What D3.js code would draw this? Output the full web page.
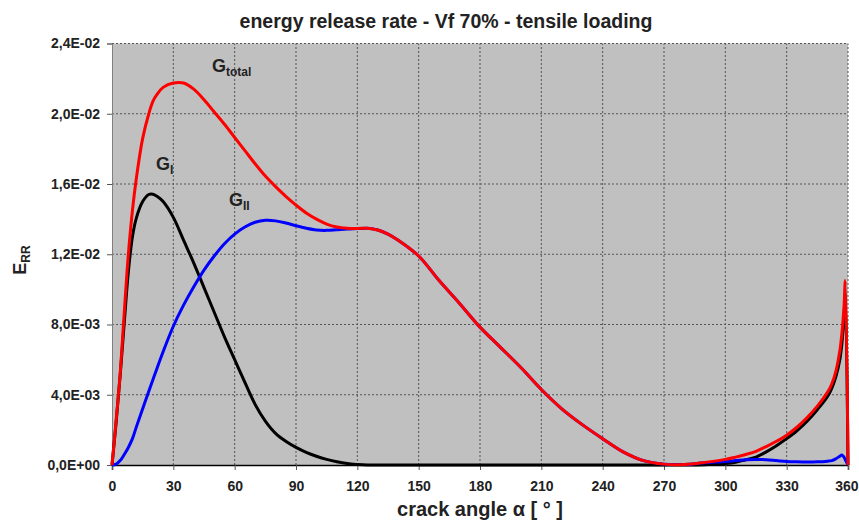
<!DOCTYPE html>
<html>
<head>
<meta charset="utf-8">
<script src="https://cdn.jsdelivr.net/npm/d3@7"></script>
<style>
  body { margin: 0; background: #fff; }
  text { font-family: "Liberation Sans", Arial, sans-serif; font-weight: bold; fill: #222; }
  .grid line { stroke: #555; stroke-dasharray: 2,2; stroke-width: 1; }
</style>
</head>
<body>
<div id="chart"></div>
<script>
// crack angle in degrees, values in units of 1E-03
var angles = [0, 2, 4, 6, 8, 10, 12, 15, 18, 20, 22, 25, 30, 35, 40, 45, 50, 55, 60, 65, 70, 75,
              80, 85, 90, 95, 100, 105, 110, 115, 120, 125, 130, 135, 140, 150, 160, 170, 180, 190,
              200, 210, 220, 230, 240, 250, 260, 270, 280, 290, 300, 305, 310, 315, 320, 325, 330,
              335, 340, 345, 350, 352, 354, 356, 357, 358, 358.7, 360];

var gTotal = [0, 2.5, 5.2, 8.7, 12.0, 14.5, 16.4, 18.6, 20.0, 20.7, 21.1, 21.5, 21.75, 21.75, 21.4, 20.8, 20.1, 19.4, 18.65, 17.9, 17.15, 16.45,
              15.85, 15.3, 14.8, 14.35, 14.0, 13.72, 13.55, 13.48, 13.47, 13.48, 13.38, 13.15, 12.8, 11.9, 10.5, 9.2, 7.85, 6.7,
              5.55, 4.3, 3.2, 2.3, 1.5, 0.75, 0.25, 0.05, 0.03, 0.15, 0.32, 0.45, 0.6, 0.78, 1.05, 1.35, 1.7,
              2.15, 2.7, 3.35, 4.15, 4.6, 5.3, 6.5, 7.5, 8.9, 10.5, 0];

var gI = [0, 2.4, 5.1, 8.1, 11.0, 13.0, 14.1, 15.0, 15.4, 15.42, 15.3, 15.0, 14.1, 12.8, 11.5, 10.1, 8.7, 7.3, 6.0, 4.7, 3.45, 2.5,
          1.8, 1.35, 1.0, 0.72, 0.5, 0.32, 0.18, 0.08, 0.03, 0, 0, 0, 0, 0, 0, 0, 0, 0,
          0, 0, 0, 0, 0, 0, 0, 0, 0, 0.02, 0.08, 0.15, 0.3, 0.45, 0.75, 1.1, 1.5,
          1.95, 2.5, 3.15, 3.9, 4.35, 5.0, 6.0, 6.9, 8.3, 9.8, 0];

var gII = [0, 0.05, 0.25, 0.6, 1.0, 1.5, 2.2, 3.2, 4.2, 4.85, 5.5, 6.45, 7.9, 9.1, 10.15, 11.1, 11.9, 12.6, 13.15, 13.55, 13.82, 13.93,
           13.9, 13.78, 13.62, 13.48, 13.38, 13.36, 13.4, 13.44, 13.46, 13.48, 13.38, 13.15, 12.8, 11.9, 10.5, 9.2, 7.85, 6.7,
           5.55, 4.3, 3.2, 2.3, 1.5, 0.75, 0.25, 0.05, 0.03, 0.13, 0.2, 0.25, 0.3, 0.32, 0.3, 0.25, 0.2,
           0.18, 0.17, 0.18, 0.22, 0.25, 0.35, 0.5, 0.57, 0.45, 0.3, 0];

var xTicks = [0, 30, 60, 90, 120, 150, 180, 210, 240, 270, 300, 330, 360];
var yTicks = [0, 4, 8, 12, 16, 20, 24];

var width = 859, height = 521,
    margin = {top: 43.5, right: 11, bottom: 56, left: 112};

var svg = d3.select('#chart')
    .append('svg')
    .attr('width', width)
    .attr('height', height);

var x = d3.scaleLinear().domain([0, 360]).range([margin.left, width - margin.right]);
var y = d3.scaleLinear().domain([0, 24]).range([height - margin.bottom, margin.top]);

// 4.0E-03 style labels
function sciLabel(v) {
    var s = (v * 1e-3).toExponential(1).split('e');
    var exp = parseInt(s[1], 10);
    if (v === 0) exp = 0;
    var e = (exp < 0 ? '-' : '+') + (Math.abs(exp) < 10 ? '0' : '') + Math.abs(exp);
    return s[0].replace('.', ',') + 'E' + e;
}

//plot background
svg.append('rect')
    .attr('x', x(0)).attr('y', y(24))
    .attr('width', x(360) - x(0))
    .attr('height', y(0) - y(24))
    .style('fill', '#c0c0c0');

//grid
var grid = svg.append('g').attr('class', 'grid');
grid.selectAll('line.v')
    .data(xTicks.slice(1))
    .enter().append('line')
    .attr('class', 'v')
    .attr('x1', function (d) { return x(d); })
    .attr('x2', function (d) { return x(d); })
    .attr('y1', y(0)).attr('y2', y(24));
grid.selectAll('line.h')
    .data(yTicks.slice(1))
    .enter().append('line')
    .attr('class', 'h')
    .attr('x1', x(0)).attr('x2', x(360))
    .attr('y1', function (d) { return y(d); })
    .attr('y2', function (d) { return y(d); });

//axes
var yAxis = svg.append('g')
    .attr('transform', 'translate(' + x(0) + ',0)')
    .call(d3.axisLeft(y).tickValues(yTicks).tickFormat(sciLabel).tickSize(5).tickPadding(7));
yAxis.select('.domain').attr('stroke', '#808080');
yAxis.selectAll('.tick line').attr('stroke', '#555');
yAxis.selectAll('text').style('font-size', '14px').attr('fill', '#333');

var xAxis = svg.append('g')
    .attr('transform', 'translate(0,' + y(0) + ')')
    .call(d3.axisBottom(x).tickValues(xTicks).tickSize(5).tickPadding(11));
xAxis.select('.domain').attr('stroke', '#000').attr('stroke-width', 1.5);
xAxis.selectAll('.tick line').attr('stroke', '#555');
xAxis.selectAll('text').style('font-size', '14px').attr('fill', '#333');
//keep the last label inside the window
xAxis.selectAll('.tick').filter(function (d) { return d === 360; })
    .select('text').attr('text-anchor', 'end').attr('x', 10);

//curves
function series(vals) {
    return angles.map(function (a, i) { return [a, vals[i]]; });
}
var line = d3.line()
    .x(function (d) { return x(d[0]); })
    .y(function (d) { return y(Math.max(0, d[1])); })
    .curve(d3.curveCatmullRom.alpha(0.5));

[[gI, '#000000'], [gII, '#0000ff'], [gTotal, '#ff0000']].forEach(function (s) {
    svg.append('path')
        .datum(series(s[0]))
        .attr('d', line)
        .style('fill', 'none')
        .style('stroke', s[1])
        .style('stroke-width', 3)
        .style('stroke-linejoin', 'round');
});

//title
svg.append('text')
    .attr('x', 446).attr('y', 28)
    .attr('text-anchor', 'middle')
    .style('font-size', '19.5px')
    .text('energy release rate - Vf 70% - tensile loading');

//axis titles
svg.append('text')
    .attr('x', 480).attr('y', 516)
    .attr('text-anchor', 'middle')
    .style('font-size', '20px')
    .text('crack angle α [ ° ]');

var yt = svg.append('text')
    .attr('transform', 'translate(26,260) rotate(-90)')
    .attr('text-anchor', 'middle')
    .style('font-size', '18px');
yt.append('tspan').text('E');
yt.append('tspan').attr('dy', 4).style('font-size', '12px').text('RR');

//curve labels
function label(px, py, sub) {
    var t = svg.append('text')
        .attr('x', px).attr('y', py)
        .style('font-size', '18px');
    t.append('tspan').text('G');
    t.append('tspan').attr('dy', 4).style('font-size', '12px').text(sub);
}
label(212, 72, 'total');
label(156, 170, 'I');
label(229, 206, 'II');
</script>
</body>
</html>
